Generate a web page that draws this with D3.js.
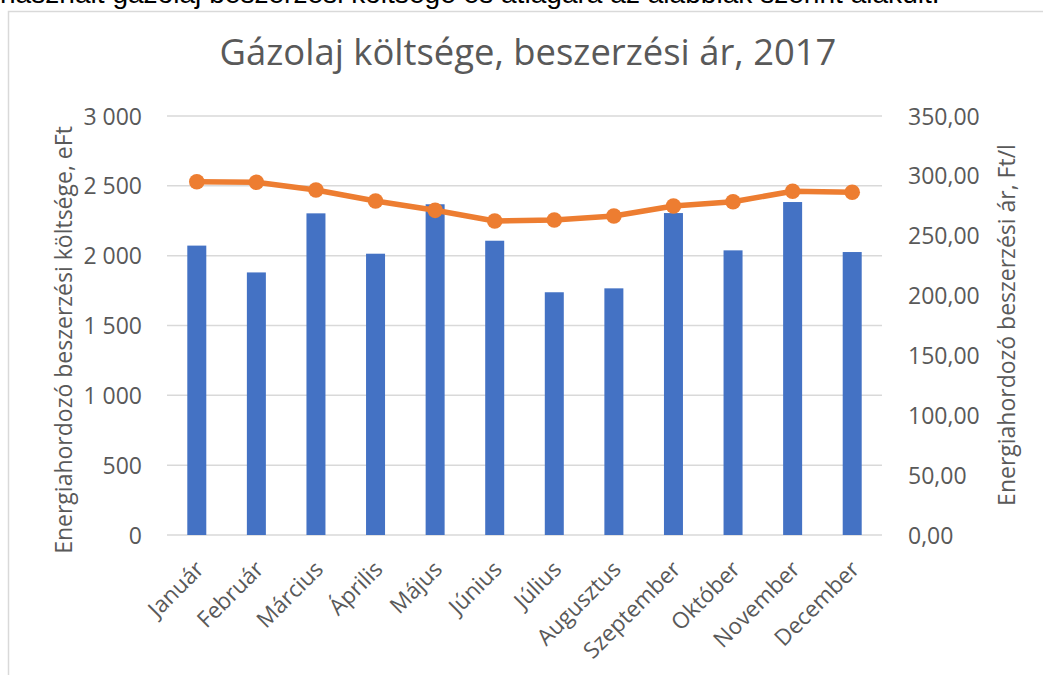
<!DOCTYPE html>
<html><head><meta charset="utf-8">
<script src="https://cdn.jsdelivr.net/npm/d3@7"></script>
<style>
body{margin:0;background:#fff;}
svg{display:block;font-family:"Open Sans",sans-serif;}
</style></head>
<body>
<svg id="c" width="1043" height="675"></svg>
<script>
const months = ["Január","Február","Március","Április","Május","Június","Július","Augusztus","Szeptember","Október","November","December"];
const costs = [2072, 1880, 2303, 2014, 2368, 2107, 1738, 1766, 2305, 2038, 2384, 2026];
const prices = [295.1, 294.6, 288.2, 279.0, 271.2, 262.3, 263.1, 266.5, 274.8, 278.4, 287.1, 286.3];
const leftTicks = [0, 500, 1000, 1500, 2000, 2500, 3000];
const rightTicks = [0, 50, 100, 150, 200, 250, 300, 350];
const titleText = "Gázolaj költsége, beszerzési ár, 2017";
const leftTitle = "Energiahordozó beszerzési költsége, eFt";
const rightTitle = "Energiahordozó beszerzési ár, Ft/l";
const topText = "használt gázolaj beszerzési költsége és átlagára az alábbiak szerint alakult.";

const svg = d3.select("#c");
const W = 1043, H = 675;
const m = {left:167, right:882, top:116, bottom:535};

function fit(sel, base, target) {
  const w = sel.node().getComputedTextLength();
  sel.attr("font-size", base * target / w);
}

// top cut text
const tt = svg.append("text").attr("x", 0).attr("y", 3).attr("font-size", 24).attr("fill", "#000")
  .attr("font-family", "'Liberation Sans', Arial, sans-serif").text(topText);
fit(tt, 24, 940);

// chart frame
svg.append("rect").attr("x", 8.5).attr("y", 11.5).attr("width", W + 20).attr("height", H + 20)
  .attr("fill", "#fff").attr("stroke", "#d9d9d9").attr("stroke-width", 1.5);

const x = d3.scaleBand().domain(months).range([m.left, m.right]).paddingInner(0).paddingOuter(0);
const yL = d3.scaleLinear().domain([0, 3000]).range([m.bottom, m.top]);
const yR = d3.scaleLinear().domain([0, 350]).range([m.bottom, m.top]);

// gridlines
svg.append("g").selectAll("line").data(leftTicks).join("line")
  .attr("x1", m.left).attr("x2", m.right)
  .attr("y1", d => yL(d)).attr("y2", d => yL(d))
  .attr("stroke", "#d9d9d9").attr("stroke-width", 1.5);

const fmtL = d => d3.format(",")(d).replace(/,/g, " ");
const fmtR = d => d3.format(".2f")(d).replace(".", ",");

// left axis
const gl = svg.append("g").attr("transform", `translate(${m.left - 25},0)`)
  .call(d3.axisLeft(yL).tickValues(leftTicks).tickFormat(fmtL).tickSize(0).tickPadding(0));
gl.select(".domain").remove();
gl.selectAll("text").attr("font-size", 23).attr("fill", "#595959").attr("font-family", "'Open Sans',sans-serif").attr("dy", "0.35em");

// right axis
const gr = svg.append("g").attr("transform", `translate(${m.right + 26},0)`)
  .call(d3.axisRight(yR).tickValues(rightTicks).tickFormat(fmtR).tickSize(0).tickPadding(0));
gr.select(".domain").remove();
gr.selectAll("text").attr("font-size", 23).attr("fill", "#595959").attr("font-family", "'Open Sans',sans-serif").attr("dy", "0.35em");

// bars
const bw = 19;
svg.append("g").selectAll("rect").data(months).join("rect")
  .attr("x", (d) => x(d) + x.bandwidth()/2 - bw/2)
  .attr("width", bw)
  .attr("y", (d,i) => yL(costs[i]))
  .attr("height", (d,i) => yL(0) - yL(costs[i]))
  .attr("fill", "#4472c4");

// line
const line = d3.line().x((d,i) => x(months[i]) + x.bandwidth()/2).y(d => yR(d));
svg.append("path").datum(prices).attr("d", line).attr("fill", "none")
  .attr("stroke", "#ed7d31").attr("stroke-width", 5.5).attr("stroke-linejoin", "round").attr("stroke-linecap", "round");
svg.append("g").selectAll("circle").data(prices).join("circle")
  .attr("cx", (d,i) => x(months[i]) + x.bandwidth()/2)
  .attr("cy", d => yR(d)).attr("r", 7.8).attr("fill", "#ed7d31");

// x axis labels
const gx = svg.append("g").attr("transform", `translate(0,${m.bottom})`)
  .call(d3.axisBottom(x).tickSize(0).tickPadding(0));
gx.select(".domain").remove();
gx.selectAll("text").attr("font-size", 22.5).attr("fill", "#595959").attr("font-family", "'Open Sans',sans-serif")
  .attr("text-anchor", "end")
  .attr("transform", "translate(3,30) rotate(-45)")
  .attr("dy", "0.35em").attr("y", 0).attr("x", 0);

// title
const t = svg.append("text").attr("x", 528).attr("y", 65).attr("text-anchor", "middle")
  .attr("font-size", 32).attr("fill", "#595959").text(titleText);
fit(t, 32, 617);

// axis titles
const lt = svg.append("text").attr("transform", `translate(72,340) rotate(-90)`).attr("text-anchor", "middle")
  .attr("font-size", 20).attr("fill", "#595959").text(leftTitle);
fit(lt, 20, 428);
const rt = svg.append("text").attr("transform", `translate(1015,325) rotate(-90)`).attr("text-anchor", "middle")
  .attr("font-size", 20).attr("fill", "#595959").text(rightTitle);
fit(rt, 20, 362);
</script>
</body></html>
